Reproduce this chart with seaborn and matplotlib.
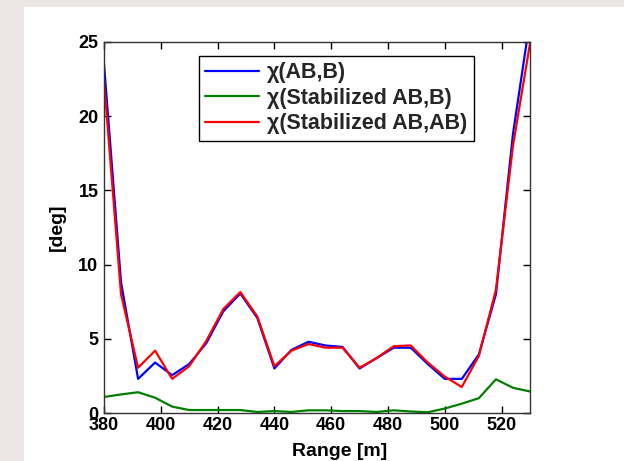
import numpy as np
import pandas as pd
import matplotlib
matplotlib.use("Agg")
import matplotlib.pyplot as plt
import seaborn as sns
from matplotlib.patches import Rectangle

# ---- data ----
range_m = [380, 386, 392, 398, 404, 410, 416, 422, 428, 434, 440, 446, 452,
           458, 464, 470, 476, 482, 488, 494, 500, 506, 512, 518, 524, 530]
chi_ab_b = [23.5, 8.8, 2.3, 3.4, 2.55, 3.3, 4.7, 6.85, 8.05, 6.4, 3.0, 4.25, 4.8,
            4.55, 4.45, 3.0, 3.7, 4.4, 4.4, 3.3, 2.3, 2.3, 3.95, 8.0, 18.8, 26.5]
chi_stab_b = [1.08, 1.25, 1.4, 1.03, 0.43, 0.2, 0.2, 0.2, 0.2, 0.07, 0.13, 0.07, 0.18,
              0.18, 0.13, 0.13, 0.07, 0.18, 0.1, 0.05, 0.3, 0.63, 1.0, 2.27, 1.7, 1.45]
chi_stab_ab = [22.4, 8.0, 3.05, 4.2, 2.3, 3.15, 4.85, 7.0, 8.15, 6.5, 3.15, 4.2, 4.65,
               4.4, 4.4, 3.05, 3.7, 4.5, 4.55, 3.4, 2.45, 1.75, 3.85, 8.3, 18.0, 24.9]
series_names = ["χ(AB,B)", "χ(Stabilized AB,B)", "χ(Stabilized AB,AB)"]
series_colors = ["#0000ff", "#008000", "#ff0000"]
x_ticks = [380, 400, 420, 440, 460, 480, 500, 520]
y_ticks = [0, 5, 10, 15, 20, 25]

df = pd.concat([
    pd.DataFrame({"Range": range_m, "deg": vals, "series": name})
    for name, vals in zip(series_names, [chi_ab_b, chi_stab_b, chi_stab_ab])
], ignore_index=True)

sns.set_style("ticks")
plt.rcParams["font.family"] = ["Liberation Sans", "DejaVu Sans"]
plt.rcParams["font.weight"] = "bold"

fig = plt.figure(figsize=(6.24, 4.61), dpi=100)
fig.patch.set_facecolor("#ebe5e5")
fig.patches.append(Rectangle((24 / 624, 0), 1 - 24 / 624, 1 - 7 / 461,
                             transform=fig.transFigure, facecolor="white",
                             edgecolor="none", zorder=-5))

ax = fig.add_axes([104 / 624, 1 - 413 / 461, (530 - 104) / 624, (413 - 42) / 461])
ax.set_zorder(2)
sns.lineplot(data=df, x="Range", y="deg", hue="series", palette=series_colors,
             hue_order=series_names, linewidth=1.6, ax=ax, sort=False)

ax.set_xlim(380, 530)
ax.set_ylim(0, 25)
ax.set_xticks(x_ticks)
ax.set_yticks(y_ticks)
ax.tick_params(direction="in", top=True, right=True, length=5, width=1,
               labelsize=13, pad=3, colors="black")
ax.tick_params(axis="y", pad=4)
for lab in ax.get_xticklabels() + ax.get_yticklabels():
    lab.set_fontweight("bold")
for sp in ax.spines.values():
    sp.set_visible(True)
    sp.set_linewidth(1)
    sp.set_color("#333333")
ax.set_xlabel("Range [m]", fontsize=14, fontweight="bold", color="black")
ax.xaxis.set_label_coords((340 - 104) / 426, -(443 - 413) / 371)
ax.set_ylabel("[deg]", fontsize=14, fontweight="bold", labelpad=9, color="black")

leg = ax.legend(loc="upper left", bbox_to_anchor=((199 - 104) / 426, 1 - (56 - 42) / 371),
                frameon=True, fancybox=False, framealpha=1, edgecolor="black",
                prop={"weight": "bold", "size": 15.5}, handlelength=2.5,
                borderpad=0.3, labelspacing=0.2, handletextpad=0.35,
                borderaxespad=0)
leg.get_frame().set_linewidth(1)
for h in leg.get_lines():
    h.set_linewidth(1.6)

fig.savefig("out.png", dpi=100, facecolor=fig.get_facecolor())
